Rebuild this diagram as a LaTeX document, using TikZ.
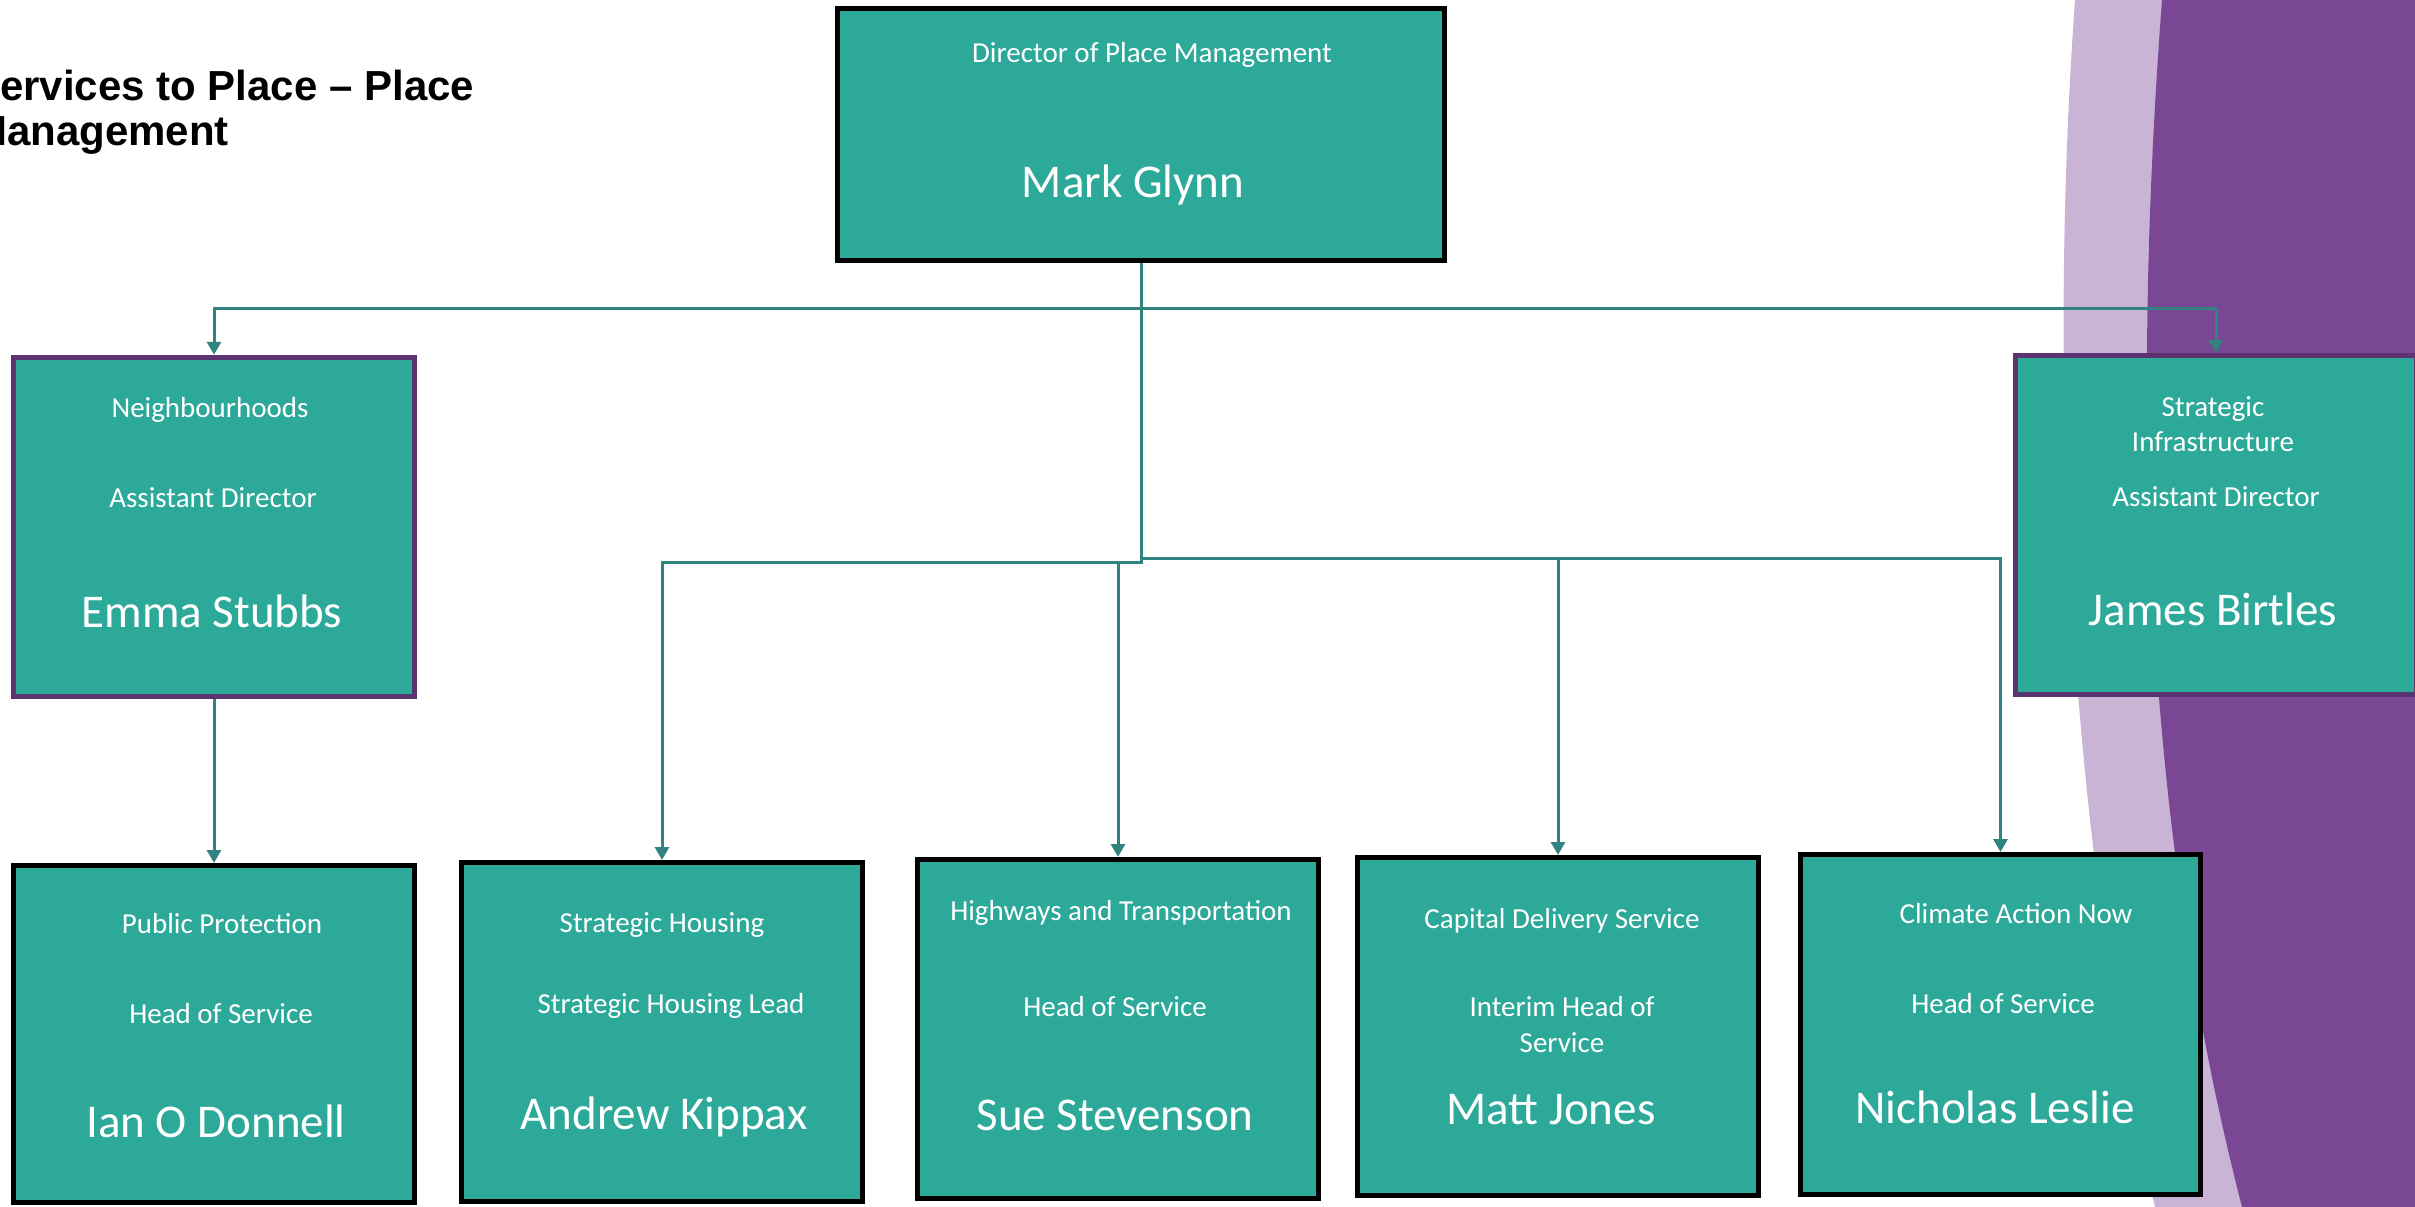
\documentclass[tikz,border=0pt]{standalone}
\usepackage{fontspec}
\setmainfont{Carlito}
\newfontfamily\titlefont{Liberation Sans}
\usetikzlibrary{arrows.meta}
\definecolor{tealfill}{HTML}{2DA99A}
\definecolor{connc}{HTML}{31837F}
\definecolor{lightpurple}{HTML}{C9B4D6}
\definecolor{darkpurple}{HTML}{7A4795}
\definecolor{borderpurple}{HTML}{5B3370}
\tikzset{
  orgbox/.style={rectangle, fill=tealfill, draw=black, line width=5pt, inner sep=0pt, minimum width=401pt, minimum height=339pt},
  adbox/.style={orgbox, draw=borderpurple, line width=5.5pt},
  small/.style={text=white, inner sep=0pt, anchor=base, font=\fontsize{29}{35}\selectfont},
  big/.style={text=white, inner sep=0pt, anchor=base, font=\fontsize{47}{56}\selectfont},
  titletext/.style={inner sep=0pt, anchor=base west, font=\titlefont\bfseries\fontsize{42}{50}\selectfont},
  conn/.style={draw=connc, line width=3pt},
  arr/.style={conn, -{Triangle[width=14pt,length=13pt]}}
}
\begin{document}
\begin{tikzpicture}[x=1pt,y=-1pt]
\useasboundingbox (0,0) rectangle (2415,1207);
\clip (0,0) rectangle (2415,1207);
\fill[white] (0,0) rectangle (2415,1207);
% background decoration
\fill[lightpurple] (2075,0) .. controls (2045,420) and (2075,870) .. (2155,1207) -- (2415,1207) -- (2415,0) -- cycle;
\fill[darkpurple] (2162,0) .. controls (2128,450) and (2150,850) .. (2242,1207) -- (2415,1207) -- (2415,0) -- cycle;
% title
\node[titletext] (title1) at (-28,100) {Services to Place – Place};
\node[titletext] (title2) at (-28,145) {Management};
% boxes
\node[orgbox, minimum width=607pt, minimum height=252pt] (mark) at (1141,134.5) {};
\node[adbox] (emma) at (214,527) {};
\node[adbox] (james) at (2216,525) {};
\node[orgbox, minimum height=337pt] (ian) at (214,1034) {};
\node[orgbox] (andrew) at (662,1032) {};
\node[orgbox] (sue) at (1118,1029) {};
\node[orgbox, minimum height=338pt] (matt) at (1558,1026.5) {};
\node[orgbox, minimum width=400pt, minimum height=340pt] (nick) at (2000.5,1024.5) {};
% texts
\node[small] (markt1) at (1152,63) {Director of Place Management};
\node[big] (markt2) at (1133,197) {Mark Glynn};
\node[small] (emmat1) at (210,417) {Neighbourhoods};
\node[small] (emmat2) at (213,507) {Assistant Director};
\node[big] (emmat3) at (212,627) {Emma Stubbs};
\node[small] (jamest1) at (2213,416) {Strategic};
\node[small] (jamest2) at (2213,451) {Infrastructure};
\node[small] (jamest3) at (2216,506) {Assistant Director};
\node[big] (jamest4) at (2213,625) {James Birtles};
\node[small] (iant1) at (222,933) {Public Protection};
\node[small] (iant2) at (221,1023) {Head of Service};
\node[big] (iant3) at (216,1137) {Ian O Donnell};
\node[small] (andt1) at (662,932) {Strategic Housing};
\node[small] (andt2) at (671,1013) {Strategic Housing Lead};
\node[big] (andt3) at (664,1129) {Andrew Kippax};
\node[small] (suet1) at (1121,920) {Highways and Transportation};
\node[small] (suet2) at (1115,1016) {Head of Service};
\node[big] (suet3) at (1115,1130) {Sue Stevenson};
\node[small] (mattt1) at (1562,928) {Capital Delivery Service};
\node[small] (mattt2) at (1562,1016) {Interim Head of};
\node[small] (mattt3) at (1562,1052) {Service};
\node[big] (mattt4) at (1551,1124) {Matt Jones};
\node[small] (nickt1) at (2016,923) {Climate Action Now};
\node[small] (nickt2) at (2003,1013) {Head of Service};
\node[big] (nickt3) at (1995,1123) {Nicholas Leslie};
% connectors
\coordinate (busTop) at (1141,308);
\coordinate (busMid) at (1141,558);
\coordinate (busL) at (1118,562);
\draw[conn] (mark.south) -- (busMid);
\draw[arr] (busTop) -| (emma.north);
\draw[arr] (busTop) -| (james.north);
\draw[arr] (busMid) -| (matt.north);
\draw[arr] (busMid) -| (nick.north);
\draw[conn] (busMid) |- (busL);
\draw[arr] (busL) -| (andrew.north);
\draw[arr] (busL) -- (sue.north);
\draw[arr] (emma.south) -- (ian.north);
\end{tikzpicture}
\end{document}
